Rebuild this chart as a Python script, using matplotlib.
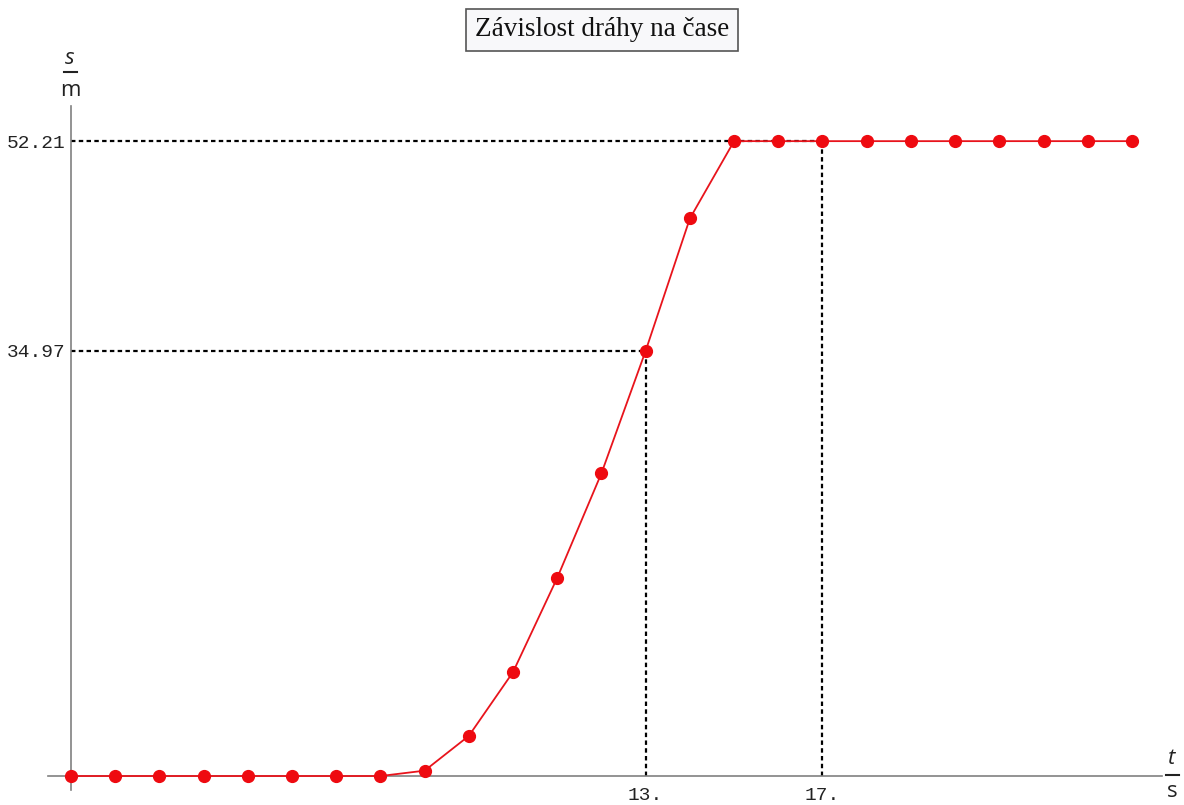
import numpy as np
import matplotlib.pyplot as plt

# time [s] and distance [m]
t = list(range(25))
s = [0, 0, 0, 0, 0, 0, 0, 0, 0.44, 3.3, 8.55, 16.3, 24.9, 34.97, 45.85,
     52.21, 52.21, 52.21, 52.21, 52.21, 52.21, 52.21, 52.21, 52.21, 52.21]

x_marks = [13, 17]
x_labels = ["13.", "17."]
y_marks = [34.97, 52.21]
y_labels = ["34.97", "52.21"]

fig = plt.figure(figsize=(11.84, 8.05), dpi=100)
ax = fig.add_axes([48 / 1184, 1 - 790 / 805, (1162 - 48) / 1184, (790 - 106) / 805])
ax.set_xlim(-0.52, 24.68)
ax.set_ylim(-1.15, 55.1)

for side in ("top", "right"):
    ax.spines[side].set_visible(False)
for side in ("left", "bottom"):
    ax.spines[side].set_position(("data", 0))
    ax.spines[side].set_color("#808080")
    ax.spines[side].set_linewidth(1.2)

ax.set_xticks(x_marks)
ax.set_xticklabels(x_labels)
ax.set_yticks(y_marks)
ax.set_yticklabels(y_labels)
ax.tick_params(length=0, labelsize=14, colors="#222222")
ax.tick_params(axis="y", pad=4)
ax.tick_params(axis="x", pad=8)
for lab in ax.get_xticklabels() + ax.get_yticklabels():
    lab.set_family("Liberation Mono")

# guide lines from the axes to the marked points
dots = dict(color="black", lw=1.6, linestyle=(0, (2.0, 1.5)), zorder=1)
ax.plot([0, 17], [52.21, 52.21], **dots)
ax.plot([17, 17], [0, 52.21], **dots)
ax.plot([0, 13], [34.97, 34.97], **dots)
ax.plot([13, 13], [0, 34.97], **dots)

ax.plot(t, s, color="#e8141c", lw=1.3, marker="o", markersize=8.5,
        markerfacecolor="#ee0a10", markeredgecolor="#ee0a10", zorder=3,
        clip_on=False)

# axis labels written as fractions
lab_kw = dict(family="Open Sans", fontsize=16, color="#222222",
              ha="center", va="center")
fig.text(70 / 1184, 1 - 58 / 805, "s", style="italic", **lab_kw)
fig.text(70 / 1184, 1 - 90 / 805, "m", **lab_kw)
fig.add_artist(plt.Line2D([64 / 1184, 77 / 1184], [1 - 72 / 805, 1 - 72 / 805],
                          color="#222222", lw=1.5))
fig.text(1172 / 1184, 1 - 758 / 805, "t", style="italic", **lab_kw)
fig.text(1172 / 1184, 1 - 791 / 805, "s", **lab_kw)
fig.add_artist(plt.Line2D([1166 / 1184, 1179 / 1184], [1 - 775 / 805, 1 - 775 / 805],
                          color="#222222", lw=1.5))

fig.text(602 / 1184, 1 - 30 / 805, "Závislost dráhy na čase", family="Liberation Serif",
         fontsize=19.5, ha="center", va="center", color="#111111",
         bbox=dict(boxstyle="square,pad=0.32", facecolor="#f8f8fa",
                   edgecolor="#555555", lw=1.2))

fig.savefig("out.png", dpi=100)
